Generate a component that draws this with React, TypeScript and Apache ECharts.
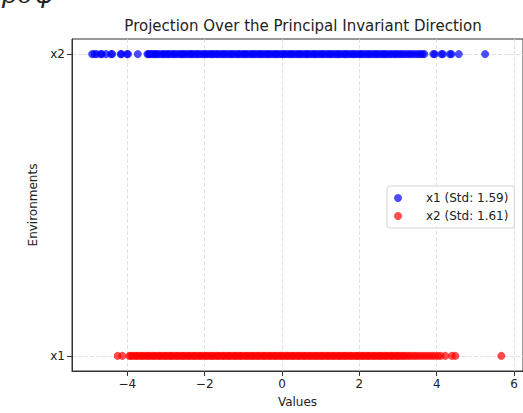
import React, { useEffect, useRef } from "react";
import * as echarts from "echarts";

const categories = ["x1", "x2"];
const xTicks = [-4, -2, 0, 2, 4, 6];
const seriesNames = ["x1 (Std: 1.59)", "x2 (Std: 1.61)"];

// blue points, drawn on row "x2"
const blueValues = [
  -4.91, -4.85, -4.79, -4.68, -4.66, -4.55, -4.42, -4.39, -4.17, -4.15, -4.01, -3.98, -3.73,
  -3.48, -3.45, -3.41, -3.36, -3.31, -3.27, -3.22, -3.18, -3.11, -3.07, -3.02, -2.96, -2.93,
  -2.87, -2.81, -2.78, -2.72, -2.66, -2.61, -2.57, -2.52, -2.47, -2.41, -2.37, -2.33, -2.28,
  -2.22, -2.18, -2.13, -2.07, -2.02, -1.98, -1.93, -1.87, -1.82, -1.79, -1.73, -1.68, -1.64,
  -1.58, -1.53, -1.49, -1.44, -1.38, -1.33, -1.29, -1.24, -1.18, -1.13, -1.09, -1.03, -0.98,
  -0.94, -0.89, -0.83, -0.78, -0.74, -0.69, -0.63, -0.58, -0.54, -0.49, -0.43, -0.38, -0.34,
  -0.29, -0.23, -0.18, -0.14, -0.09, -0.03, 0.02, 0.06, 0.11, 0.17, 0.22, 0.26, 0.31, 0.37,
  0.42, 0.46, 0.51, 0.57, 0.62, 0.66, 0.71, 0.77, 0.82, 0.86, 0.91, 0.97, 1.02, 1.06, 1.11,
  1.17, 1.22, 1.26, 1.31, 1.37, 1.42, 1.46, 1.51, 1.57, 1.62, 1.66, 1.71, 1.77, 1.82, 1.86,
  1.91, 1.97, 2.02, 2.06, 2.11, 2.17, 2.22, 2.26, 2.31, 2.37, 2.42, 2.46, 2.51, 2.57, 2.62,
  2.66, 2.71, 2.77, 2.82, 2.88, 2.93, 2.98, 3.04, 3.09, 3.15, 3.21, 3.27, 3.33, 3.39, 3.46,
  3.52, 3.58, 3.63, 3.68, 3.91, 3.95, 4.12, 4.16, 4.34, 4.38, 4.57, 5.25,
];

// red points, drawn on row "x1"
const redValues = [
  -4.25, -4.13, -3.95, -3.91, -3.86, -3.8, -3.76, -3.71, -3.65, -3.61, -3.56, -3.5, -3.46,
  -3.41, -3.35, -3.31, -3.26, -3.2, -3.16, -3.11, -3.05, -3.01, -2.96, -2.9, -2.86, -2.81,
  -2.75, -2.71, -2.66, -2.6, -2.56, -2.51, -2.45, -2.41, -2.36, -2.3, -2.26, -2.21, -2.15,
  -2.11, -2.06, -2.0, -1.96, -1.91, -1.85, -1.81, -1.76, -1.7, -1.66, -1.61, -1.55, -1.51,
  -1.46, -1.4, -1.36, -1.31, -1.25, -1.21, -1.16, -1.1, -1.06, -1.01, -0.95, -0.91, -0.86,
  -0.8, -0.76, -0.71, -0.65, -0.61, -0.56, -0.5, -0.46, -0.41, -0.35, -0.31, -0.26, -0.2,
  -0.16, -0.11, -0.05, -0.01, 0.04, 0.1, 0.14, 0.19, 0.25, 0.29, 0.34, 0.4, 0.44, 0.49, 0.55,
  0.59, 0.64, 0.7, 0.74, 0.79, 0.85, 0.89, 0.94, 1.0, 1.04, 1.09, 1.15, 1.19, 1.24, 1.3, 1.34,
  1.39, 1.45, 1.49, 1.54, 1.6, 1.64, 1.69, 1.75, 1.79, 1.84, 1.9, 1.94, 1.99, 2.05, 2.09,
  2.14, 2.2, 2.24, 2.29, 2.35, 2.39, 2.44, 2.5, 2.54, 2.59, 2.65, 2.69, 2.74, 2.8, 2.84, 2.89,
  2.95, 2.99, 3.04, 3.1, 3.15, 3.21, 3.27, 3.33, 3.4, 3.46, 3.53, 3.6, 3.67, 3.74, 3.81, 3.88,
  3.95, 4.03, 4.1, 4.22, 4.39, 4.48, 5.67,
];

const FONT = "DejaVu Sans";
const TXT = "#222";
const gridLine = { show: true, lineStyle: { color: "#d8d8d8", type: [4, 2] as any, width: 0.8 } };

export default function App() {
  const ref = useRef<HTMLDivElement>(null);
  useEffect(() => {
    if (!ref.current) return;
    const chart = echarts.init(ref.current, null, { renderer: "svg" });
    chart.setOption({
      animation: false,
      backgroundColor: "#fff",
      textStyle: { fontFamily: FONT },
      title: {
        text: "Projection Over the Principal Invariant Direction",
        left: 298,
        textAlign: "center",
        top: 13,
        textStyle: { fontFamily: FONT, fontSize: 15, fontWeight: "normal", color: TXT },
      },
      graphic: [
        {
          type: "text",
          left: 2,
          top: -19,
          style: { text: "ρσφ", font: "italic 26px DejaVu Serif", fill: "#222" },
        },
      ],
      legend: {
        orient: "vertical",
        left: 387,
        top: 186,
        padding: [6, 6, 6, 7],
        itemGap: 6,
        itemWidth: 8,
        itemHeight: 8,
        icon: "circle",
        borderColor: "#d5d5d5",
        borderWidth: 1,
        borderRadius: 3,
        backgroundColor: "rgba(255,255,255,0.8)",
        textStyle: { fontFamily: FONT, fontSize: 12, color: TXT, padding: [0, 0, 0, 19] },
        data: seriesNames,
      },
      grid: {
        left: 72,
        top: 39,
        width: 452,
        height: 336,
        show: true,
        borderColor: "#333",
        borderWidth: 1,
        backgroundColor: "transparent",
      },
      xAxis: {
        type: "value",
        min: -5.43,
        max: 6.23,
        name: "Values",
        nameLocation: "middle",
        nameGap: 25,
        nameTextStyle: { fontFamily: FONT, fontSize: 12, color: TXT },
        axisLine: { show: true, onZero: false, lineStyle: { color: "#333", width: 1 } },
        axisTick: { show: true, inside: false, length: 5, customValues: xTicks, lineStyle: { color: "#333" } },
        axisLabel: {
          customValues: xTicks,
          margin: 7,
          fontFamily: FONT,
          fontSize: 12,
          color: TXT,
          formatter: (v: number) => String(v).replace("-", "\u2212"),
        },
        splitLine: gridLine,
      },
      yAxis: {
        type: "value",
        min: -0.05,
        max: 1.05,
        name: "Environments",
        nameLocation: "middle",
        nameGap: 28,
        nameRotate: 90,
        nameTextStyle: { fontFamily: FONT, fontSize: 12, color: TXT },
        axisLine: { show: true, onZero: false, lineStyle: { color: "#333", width: 1 } },
        axisTick: { show: true, inside: false, length: 5, customValues: [0, 1], lineStyle: { color: "#333" } },
        axisLabel: {
          customValues: [0, 1],
          margin: 7,
          fontFamily: FONT,
          fontSize: 12,
          color: TXT,
          formatter: (v: number) => categories[Math.round(v)] ?? "",
        },
        splitLine: gridLine,
      },
      series: [
        {
          name: seriesNames[0],
          type: "scatter",
          symbol: "circle",
          symbolSize: 8,
          itemStyle: { color: "#0000ff", opacity: 0.7 },
          data: blueValues.map((v) => [v, 1]),
        },
        {
          name: seriesNames[1],
          type: "scatter",
          symbol: "circle",
          symbolSize: 8,
          itemStyle: { color: "#ff0000", opacity: 0.7 },
          data: redValues.map((v) => [v, 0]),
        },
      ],
    });
    return () => chart.dispose();
  }, []);
  return <div ref={ref} style={{ width: 523, height: 413, position: "absolute", left: 0, top: 0 }} />;
}
